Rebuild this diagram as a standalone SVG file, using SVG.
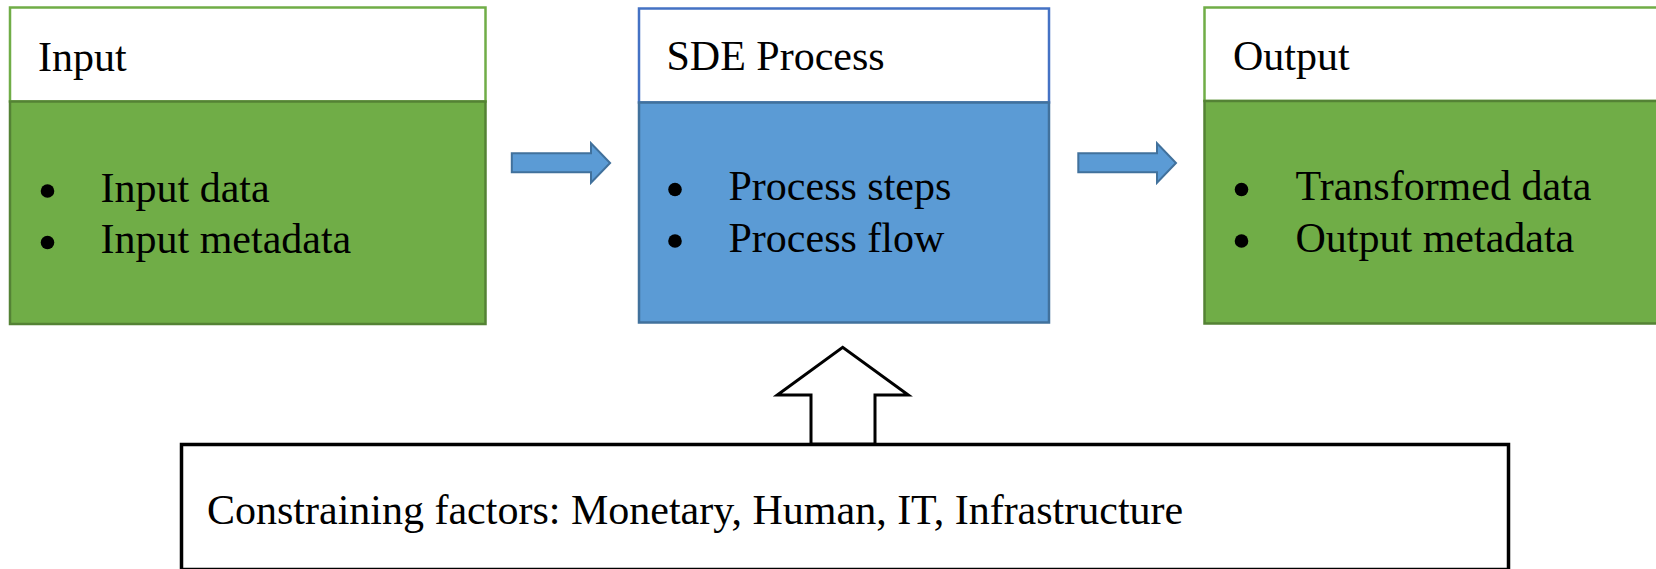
<svg xmlns="http://www.w3.org/2000/svg" width="1656" height="569" viewBox="0 0 1656 569">
  <style>
    text { font-family: "Liberation Serif", "Times New Roman", serif; font-size: 42px; fill: #000; }
    .hdr-green { fill: #ffffff; stroke: #70AD47; stroke-width: 2.5; }
    .body-green { fill: #70AD47; stroke: #548235; stroke-width: 2.5; }
    .hdr-blue { fill: #ffffff; stroke: #4472C4; stroke-width: 2.5; }
    .body-blue { fill: #5B9BD5; stroke: #41719C; stroke-width: 2.5; }
    .flow { fill: #5B9BD5; stroke: #41719C; stroke-width: 2; }
    .up { fill: #ffffff; stroke: #000; stroke-width: 3; stroke-linejoin: miter; }
    .frame { fill: #ffffff; stroke: #000; stroke-width: 3.5; }
    .dot { fill: #000; }
  </style>

  <!-- Input node -->
  <g id="input">
    <rect class="hdr-green" x="10" y="7.5" width="475.5" height="94"/>
    <rect class="body-green" x="10" y="101.5" width="475.5" height="222.5"/>
    <text x="38" y="71">Input</text>
    <circle class="dot" cx="47.5" cy="191" r="6.8"/>
    <circle class="dot" cx="47.5" cy="242.5" r="6.8"/>
    <text x="100.5" y="201.5">Input data</text>
    <text x="100.5" y="253">Input metadata</text>
  </g>

  <!-- SDE Process node -->
  <g id="process">
    <rect class="hdr-blue" x="639" y="8.5" width="410" height="94"/>
    <rect class="body-blue" x="639" y="102.5" width="410" height="220"/>
    <text x="666.5" y="70">SDE Process</text>
    <circle class="dot" cx="675" cy="189.5" r="6.8"/>
    <circle class="dot" cx="675" cy="241" r="6.8"/>
    <text x="728.5" y="200">Process steps</text>
    <text x="728.5" y="251.5">Process flow</text>
  </g>

  <!-- Output node -->
  <g id="output">
    <rect class="hdr-green" x="1204.5" y="7.5" width="470" height="93.5"/>
    <rect class="body-green" x="1204.5" y="101" width="470" height="222.5"/>
    <text x="1233" y="70">Output</text>
    <circle class="dot" cx="1241.5" cy="189.5" r="6.8"/>
    <circle class="dot" cx="1241.5" cy="241" r="6.8"/>
    <text x="1295.5" y="200">Transformed data</text>
    <text x="1295.5" y="251.5">Output metadata</text>
  </g>

  <!-- Constraining factors node -->
  <g id="constraints">
    <rect class="frame" x="181.5" y="444.5" width="1327" height="125"/>
    <text x="207" y="523.5">Constraining factors: Monetary, Human, IT, Infrastructure</text>
  </g>

  <!-- Connectors: block arrows -->
  <g id="connectors">
    <path class="flow" d="M511.8,153.3 H591 V143.3 L610.1,163 L591,182.7 V172.3 H511.8 Z"/>
    <path class="flow" d="M1078.3,153.3 H1157 V143.3 L1176,163 L1157,182.7 V172.3 H1078.3 Z"/>
    <path class="up" d="M811,444 V395 H777.3 L842.7,347.3 L908.3,395 H875 V444 Z"/>
  </g>
</svg>
